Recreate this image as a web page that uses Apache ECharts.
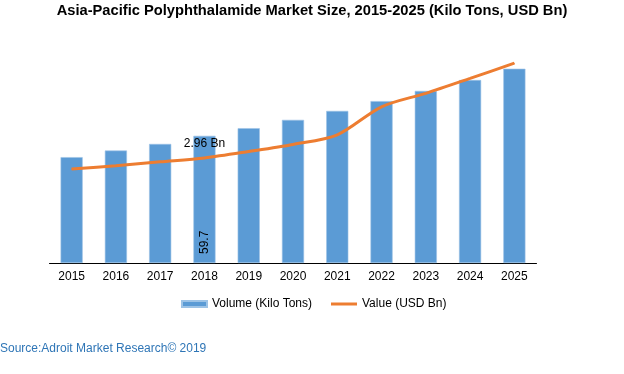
<!DOCTYPE html>
<html><head><meta charset="utf-8">
<script src="https://cdn.jsdelivr.net/npm/echarts@6/dist/echarts.min.js"></script>
<style>html,body{margin:0;padding:0;background:#fff}#c{width:624px;height:374px}</style>
</head><body><div id="c"></div>
<script>
const categories = ['2015','2016','2017','2018','2019','2020','2021','2022','2023','2024','2025'];
const volume = [49.7, 52.8, 55.9, 59.7, 63.3, 67.2, 71.4, 76.0, 80.8, 85.9, 91.2];
const value = [2.65, 2.74, 2.85, 2.96, 3.14, 3.34, 3.61, 4.40, 4.78, 5.20, 5.63];
const labelIndex = 3;

const chart = echarts.init(document.getElementById('c'), null, {renderer: 'canvas'});
const font = '"Liberation Sans", Arial, sans-serif';
chart.setOption({
  animation: false,
  textStyle: {fontFamily: font},
  title: [{
    text: 'Asia-Pacific Polyphthalamide Market Size, 2015-2025 (Kilo Tons, USD Bn)',
    left: 'center', top: 3, padding: 0,
    textStyle: {fontSize: 14.7, fontWeight: 'bold', color: '#000', fontFamily: font}
  }, {
    text: 'Source:Adroit Market Research© 2019',
    left: 0, top: 343, padding: 0,
    textStyle: {fontSize: 12, fontWeight: 'normal', color: '#2e75b6', fontFamily: font}
  }],
  grid: {left: 49.5, right: 87.5, top: 50, bottom: 111, containLabel: false},
  legend: [{
    data: ['Volume (Kilo Tons)'], left: 181, top: 298, padding: 0, icon: 'rect',
    itemWidth: 25, itemHeight: 6,
    textStyle: {fontSize: 12, color: '#000', fontFamily: font}
  }, {
    data: ['Value (USD Bn)'], left: 331, top: 298, padding: 0, icon: 'rect',
    itemWidth: 26, itemHeight: 3,
    itemStyle: {color: '#ed7d31', opacity: 1},
    textStyle: {fontSize: 12, color: '#000', fontFamily: font}
  }],
  xAxis: {
    type: 'category', data: categories,
    axisLine: {lineStyle: {color: '#000', width: 1}},
    axisTick: {show: false},
    axisLabel: {color: '#000', fontSize: 12, margin: 8, fontFamily: font}
  },
  yAxis: [
    {type: 'value', min: 0, max: 100, show: false, splitLine: {show: false}},
    {type: 'value', min: 0, max: 6, show: false, splitLine: {show: false}}
  ],
  series: [{
    name: 'Volume (Kilo Tons)', type: 'bar', data: volume.map((v, i) => i === labelIndex ? {
      value: v,
      label: {show: true, position: 'insideBottom', rotate: 90, distance: 9, color: '#000', fontSize: 12, fontFamily: font, align: 'left', verticalAlign: 'middle'}
    } : v),
    barWidth: '50%', yAxisIndex: 0,
    itemStyle: {color: '#5b9bd5', borderColor: '#9dc3e6', borderWidth: 0.6}
  }, {
    name: 'Value (USD Bn)', type: 'line', data: value.map((v, i) => i === labelIndex ? {
      value: v,
      label: {show: true, position: 'top', distance: 8, formatter: '{c} Bn', color: '#000', fontSize: 12, fontFamily: font}
    } : v),
    yAxisIndex: 1, smooth: 0.3, symbol: 'circle', symbolSize: 1, showSymbol: true,
    label: {show: false},
    lineStyle: {color: '#ed7d31', width: 3}, itemStyle: {color: '#ed7d31'}
  }]
});
</script></body></html>
